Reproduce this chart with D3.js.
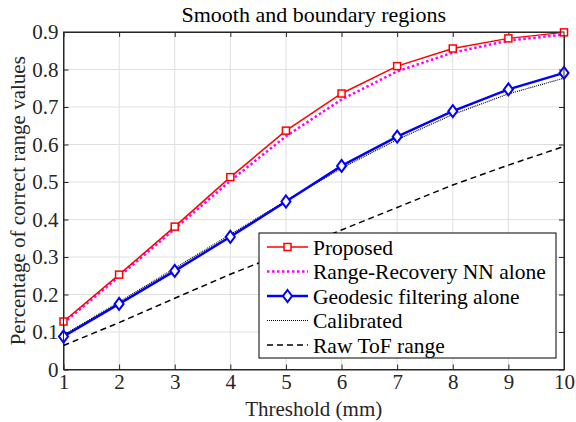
<!DOCTYPE html>
<html>
<head>
<meta charset="utf-8">
<script src="https://cdn.jsdelivr.net/npm/d3@7"></script>
<style>
  body { margin: 0; background: #fff; }
  svg text { font-family: "Liberation Serif", "Times New Roman", "DejaVu Serif", serif; }
</style>
</head>
<body>
<script>
// values
var thresholds = [1, 2, 3, 4, 5, 6, 7, 8, 9, 10];
var proposed   = [0.128, 0.253, 0.381, 0.513, 0.637, 0.736, 0.809, 0.856, 0.883, 0.899];
var rangeNN    = [0.124, 0.248, 0.375, 0.503, 0.622, 0.72, 0.795, 0.845, 0.877, 0.893];
var geodesic   = [0.088, 0.175, 0.263, 0.354, 0.448, 0.543, 0.621, 0.689, 0.747, 0.791];
var calibrated = [0.092, 0.18, 0.27, 0.36, 0.45, 0.537, 0.613, 0.68, 0.735, 0.777];
var rawTof     = [0.064, 0.125, 0.19, 0.254, 0.313, 0.372, 0.432, 0.492, 0.545, 0.595];
var xTicks = [1, 2, 3, 4, 5, 6, 7, 8, 9, 10];
var yTicks = [0, 0.1, 0.2, 0.3, 0.4, 0.5, 0.6, 0.7, 0.8, 0.9];

var series = [
  {name: "Proposed", values: proposed, color: "#ff0000", width: 1.5, dash: null, marker: "square"},
  {name: "Range-Recovery NN alone", values: rangeNN, color: "#ff00ff", width: 2.5, dash: "2.5,2.5", marker: null},
  {name: "Geodesic filtering alone", values: geodesic, color: "#0000ff", width: 2.5, dash: null, marker: "diamond"},
  {name: "Calibrated", values: calibrated, color: "#000000", width: 1.2, dash: "1,1", marker: null},
  {name: "Raw ToF range", values: rawTof, color: "#000000", width: 1.5, dash: "6,4", marker: null}
];

var width = 576, height = 422;
var margin = {left: 63.5, right: 12, top: 32, bottom: 52.5};
var font = "Liberation Serif, Times New Roman, DejaVu Serif, serif";

var svg = d3.select("body").append("svg")
    .attr("width", width)
    .attr("height", height)
    .attr("font-family", font);

var x = d3.scaleLinear().domain([1, 10]).range([margin.left, width - margin.right]);
var y = d3.scaleLinear().domain([0, 0.9]).range([height - margin.bottom, margin.top]);

var axisColor = "#262626";

// grid
svg.append("g").selectAll("line").data(xTicks).enter().append("line")
    .attr("x1", d => x(d)).attr("x2", d => x(d))
    .attr("y1", y(0)).attr("y2", y(0.9))
    .attr("stroke", "#dfdfdf").attr("stroke-width", 1);
svg.append("g").selectAll("line").data(yTicks).enter().append("line")
    .attr("x1", x(1)).attr("x2", x(10))
    .attr("y1", d => y(d)).attr("y2", d => y(d))
    .attr("stroke", "#dfdfdf").attr("stroke-width", 1);

// axes, ticks pointing inward
var tickLen = 5;
var xAxis = svg.append("g")
    .attr("transform", "translate(0," + y(0) + ")")
    .call(d3.axisBottom(x).tickValues(xTicks).tickSizeInner(-tickLen).tickSizeOuter(0).tickPadding(5));
var xAxisTop = svg.append("g")
    .attr("transform", "translate(0," + y(0.9) + ")")
    .call(d3.axisTop(x).tickValues(xTicks).tickSizeInner(-tickLen).tickSizeOuter(0).tickFormat(""));
var yAxis = svg.append("g")
    .attr("transform", "translate(" + x(1) + ",0)")
    .call(d3.axisLeft(y).tickValues(yTicks).tickSizeInner(-tickLen).tickSizeOuter(0).tickPadding(5)
      .tickFormat(d => d === 0 ? "0" : d3.format(".1f")(d)));
var yAxisRight = svg.append("g")
    .attr("transform", "translate(" + x(10) + ",0)")
    .call(d3.axisRight(y).tickValues(yTicks).tickSizeInner(-tickLen).tickSizeOuter(0).tickFormat(""));

[xAxis, xAxisTop, yAxis, yAxisRight].forEach(function(g) {
  g.attr("font-family", font).attr("font-size", 21);
  g.select(".domain").attr("stroke", axisColor).attr("stroke-width", 1);
  g.selectAll(".tick line").attr("stroke", axisColor);
  g.selectAll("text").attr("fill", axisColor);
});

// lines
var line = d3.line()
    .x((d, i) => x(thresholds[i]))
    .y(d => y(d));

series.slice().reverse().forEach(function(s) {
  svg.append("path")
      .datum(s.values)
      .attr("fill", "none")
      .attr("stroke", s.color)
      .attr("stroke-width", s.width)
      .attr("stroke-dasharray", s.dash)
      .attr("d", line);
});

function drawMarker(g, type, cx, cy, color) {
  if (type === "square") {
    g.append("rect")
        .attr("x", cx - 3.5).attr("y", cy - 3.5)
        .attr("width", 7).attr("height", 7)
        .attr("fill", "#fff").attr("stroke", color).attr("stroke-width", 1.5);
  } else if (type === "diamond") {
    g.append("path")
        .attr("d", "M" + cx + "," + (cy - 6) + "L" + (cx + 4.5) + "," + cy + "L" + cx + "," + (cy + 6) + "L" + (cx - 4.5) + "," + cy + "Z")
        .attr("fill", "#fff").attr("stroke", color).attr("stroke-width", 2);
  }
}

var markers = svg.append("g");
series.forEach(function(s) {
  if (!s.marker) return;
  s.values.forEach(function(v, i) {
    drawMarker(markers, s.marker, x(thresholds[i]), y(v), s.color);
  });
});

// box on top
svg.append("rect")
    .attr("x", x(1)).attr("y", y(0.9))
    .attr("width", x(10) - x(1)).attr("height", y(0) - y(0.9))
    .attr("fill", "none").attr("stroke", axisColor).attr("stroke-width", 1);

// title and labels
svg.append("text")
    .attr("x", (x(1) + x(10)) / 2).attr("y", 22)
    .attr("text-anchor", "middle")
    .attr("fill", "#000")
    .attr("font-size", 22)
    .text("Smooth and boundary regions");

svg.append("text")
    .attr("x", (x(1) + x(10)) / 2).attr("y", 416)
    .attr("text-anchor", "middle")
    .attr("fill", axisColor)
    .attr("font-size", 21)
    .text("Threshold (mm)");

svg.append("text")
    .attr("transform", "translate(25," + ((y(0) + y(0.9)) / 2) + ") rotate(-90)")
    .attr("text-anchor", "middle")
    .attr("fill", axisColor)
    .attr("font-size", 21)
    .text("Percentage of correct range values");

// legend
var lg = svg.append("g").attr("transform", "translate(259,233)");
lg.append("rect")
    .attr("width", 297).attr("height", 125)
    .attr("fill", "#fff").attr("stroke", "#000").attr("stroke-width", 1);

series.forEach(function(s, i) {
  var cy = 14 + i * 24.5;
  lg.append("line")
      .attr("x1", 8).attr("x2", 49)
      .attr("y1", cy).attr("y2", cy)
      .attr("stroke", s.color)
      .attr("stroke-width", s.width)
      .attr("stroke-dasharray", s.dash);
  if (s.marker) drawMarker(lg, s.marker, 28.5, cy, s.color);
  lg.append("text")
      .attr("x", 54).attr("y", cy)
      .attr("dy", "0.35em")
      .attr("fill", "#000")
      .attr("font-size", 21.5)
      .text(s.name);
});
</script>
</body>
</html>
